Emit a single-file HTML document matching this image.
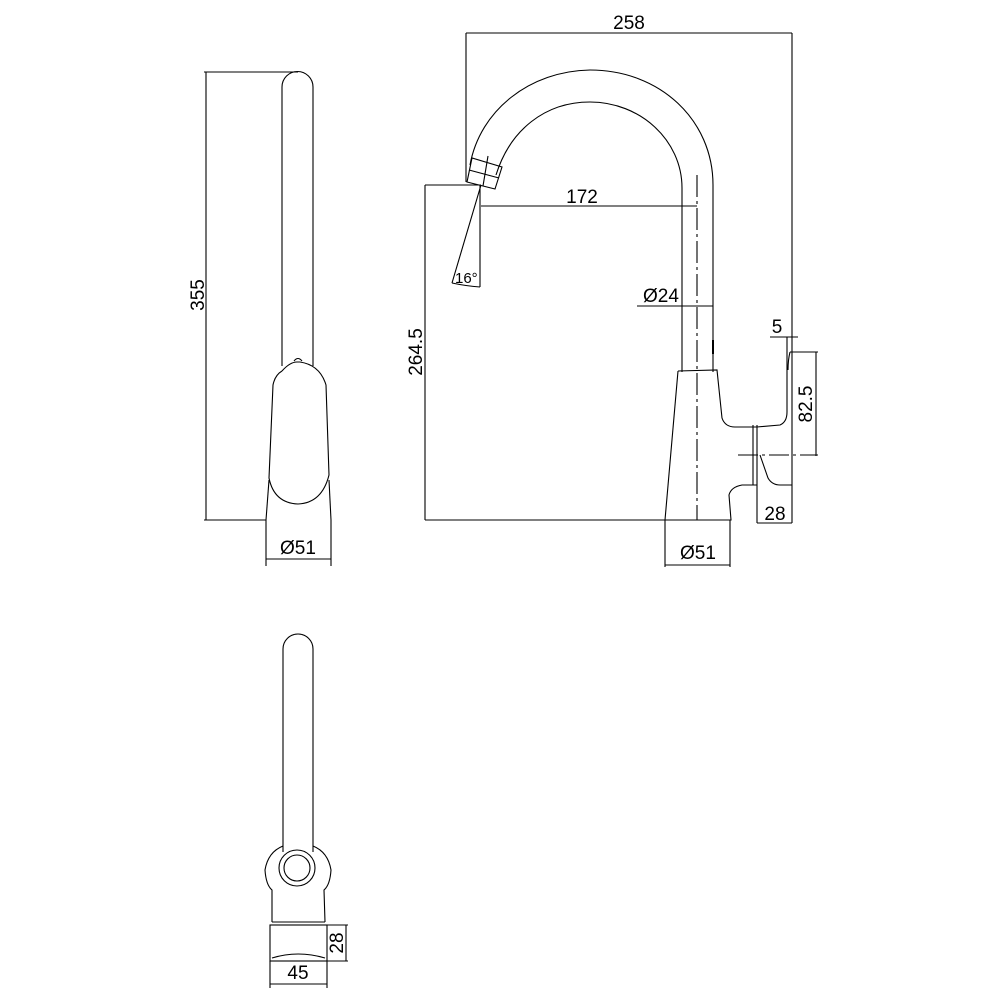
<!DOCTYPE html>
<html><head><style>html,body{margin:0;padding:0;background:#fff}svg{display:block}</style></head><body>
<svg width="1000" height="1000" viewBox="0 0 1000 1000" xmlns="http://www.w3.org/2000/svg" font-family="Liberation Sans, sans-serif" fill="none" stroke="#000" stroke-width="1.1">
<!-- LEFT VIEW -->
<line x1="204" y1="72" x2="298" y2="72"/>
<line x1="204" y1="520" x2="266" y2="520"/>
<line x1="206" y1="72" x2="206" y2="520"/>
<path d="M282 366 V87 A15.5 15.5 0 0 1 313 87 V366"/>
<path d="M282 371 Q290 362 297 362 L300 362 Q320 365 326 385 L329 475 Q322 503 298 504 Q274 503 269 478 L273 385 Q275 375 282 371"/>
<path d="M294 361 Q298 356 302 361"/>
<line x1="269" y1="480" x2="266" y2="520"/>
<line x1="329" y1="480" x2="331" y2="520"/>
<line x1="266" y1="520" x2="266" y2="566"/>
<line x1="331" y1="520" x2="331" y2="566"/>
<line x1="266" y1="559" x2="331" y2="559"/>
<text x="298" y="554" font-size="19" fill="#000" stroke="none" text-anchor="middle" textLength="36" lengthAdjust="spacingAndGlyphs">Ø51</text>
<text x="0" y="0" font-size="19" fill="#000" stroke="none" text-anchor="middle" transform="translate(204,295) rotate(-90)">355</text>

<!-- RIGHT VIEW -->
<line x1="466" y1="33" x2="792" y2="33"/>
<line x1="466" y1="33" x2="466" y2="182"/>
<line x1="792" y1="33" x2="792" y2="523"/>
<text x="629" y="29" font-size="19" fill="#000" stroke="none" text-anchor="middle">258</text>
<path d="M470 165 C480 110 530 71 590 70 C660 70 713 120 713 185 V372"/>
<path d="M496 175 C510 130 545 102 590 102 C640 102 682 140 682 188 V372"/>
<path d="M467 182 L472 158 L502 167 L495 189 Z"/>
<line x1="469" y1="170" x2="499" y2="178"/>
<line x1="488" y1="156" x2="483" y2="186"/>
<line x1="713" y1="340" x2="713" y2="354" stroke-width="2"/>
<line x1="425" y1="185" x2="481" y2="185"/>
<line x1="425" y1="185" x2="425" y2="520"/>
<line x1="425" y1="520" x2="665" y2="520"/>
<text x="0" y="0" font-size="19" fill="#000" stroke="none" text-anchor="middle" transform="translate(422,352) rotate(-90)">264.5</text>
<line x1="481" y1="206" x2="697" y2="206"/>
<text x="582" y="203" font-size="19" fill="#000" stroke="none" text-anchor="middle">172</text>
<line x1="480" y1="185" x2="480" y2="287"/>
<line x1="481" y1="185" x2="452" y2="283"/>
<path d="M452 283 Q466 286 480 287"/>
<text x="455" y="283" font-size="15" fill="#000" stroke="none">16°</text>
<line x1="697" y1="175" x2="697" y2="520" stroke-dasharray="22 4 3 4"/>
<line x1="637" y1="306" x2="713" y2="306"/>
<text x="643" y="302" font-size="19" fill="#000" stroke="none">Ø24</text>
<path d="M678 371 L717 370 L722 418 Q725 427 735 427 L757 427"/>
<line x1="678" y1="371" x2="665" y2="520"/>
<path d="M757 485 L742 485 Q731 487 729 495 L731 520 L665 520"/>
<line x1="753" y1="425" x2="753" y2="485"/>
<line x1="757" y1="425" x2="757" y2="485"/>
<path d="M757 427 L780 425 Q787 422 787 412 L787 337"/>
<path d="M790 352 Q788 360 788 370"/>
<path d="M760 455 L768 478 Q772 485 780 485 L792 485"/>
<line x1="790" y1="352" x2="818" y2="352"/>
<line x1="738" y1="455" x2="818" y2="455" stroke-dasharray="20 4 3 4"/>
<line x1="816" y1="352" x2="816" y2="456"/>
<text x="0" y="0" font-size="19" fill="#000" stroke="none" text-anchor="middle" transform="translate(812,404) rotate(-90)">82.5</text>
<line x1="770" y1="337" x2="798" y2="337"/>
<text x="777" y="333" font-size="19" fill="#000" stroke="none" text-anchor="middle">5</text>
<line x1="757" y1="485" x2="757" y2="523"/>
<line x1="757" y1="523" x2="792" y2="523"/>
<text x="775" y="520" font-size="19" fill="#000" stroke="none" text-anchor="middle">28</text>
<line x1="665" y1="520" x2="665" y2="567"/>
<line x1="730" y1="520" x2="730" y2="567"/>
<line x1="665" y1="565" x2="730" y2="565"/>
<text x="698" y="559" font-size="19" fill="#000" stroke="none" text-anchor="middle" textLength="36" lengthAdjust="spacingAndGlyphs">Ø51</text>

<!-- BOTTOM VIEW -->
<path d="M283 852 V649 A15 15 0 0 1 313 649 V852"/>
<path d="M283 846 Q268 852 265 870 Q266 885 272 890 L272 922 M313 846 Q328 852 331 870 Q330 885 324 890 L325 922"/>
<circle cx="297" cy="868" r="18"/>
<circle cx="297" cy="868" r="13"/>
<line x1="272" y1="922" x2="325" y2="922"/>
<rect x="270" y="925" width="57" height="36"/>
<path d="M272 958 Q298 950 325 958"/>
<line x1="327" y1="925" x2="348" y2="925"/>
<line x1="327" y1="961" x2="348" y2="961"/>
<line x1="346" y1="925" x2="346" y2="961"/>
<text x="0" y="0" font-size="19" fill="#000" stroke="none" text-anchor="middle" transform="translate(343,943) rotate(-90)">28</text>
<line x1="270" y1="961" x2="270" y2="988"/>
<line x1="327" y1="961" x2="327" y2="988"/>
<line x1="270" y1="984" x2="327" y2="984"/>
<text x="298" y="979" font-size="19" fill="#000" stroke="none" text-anchor="middle">45</text>
</svg>
</body></html>
